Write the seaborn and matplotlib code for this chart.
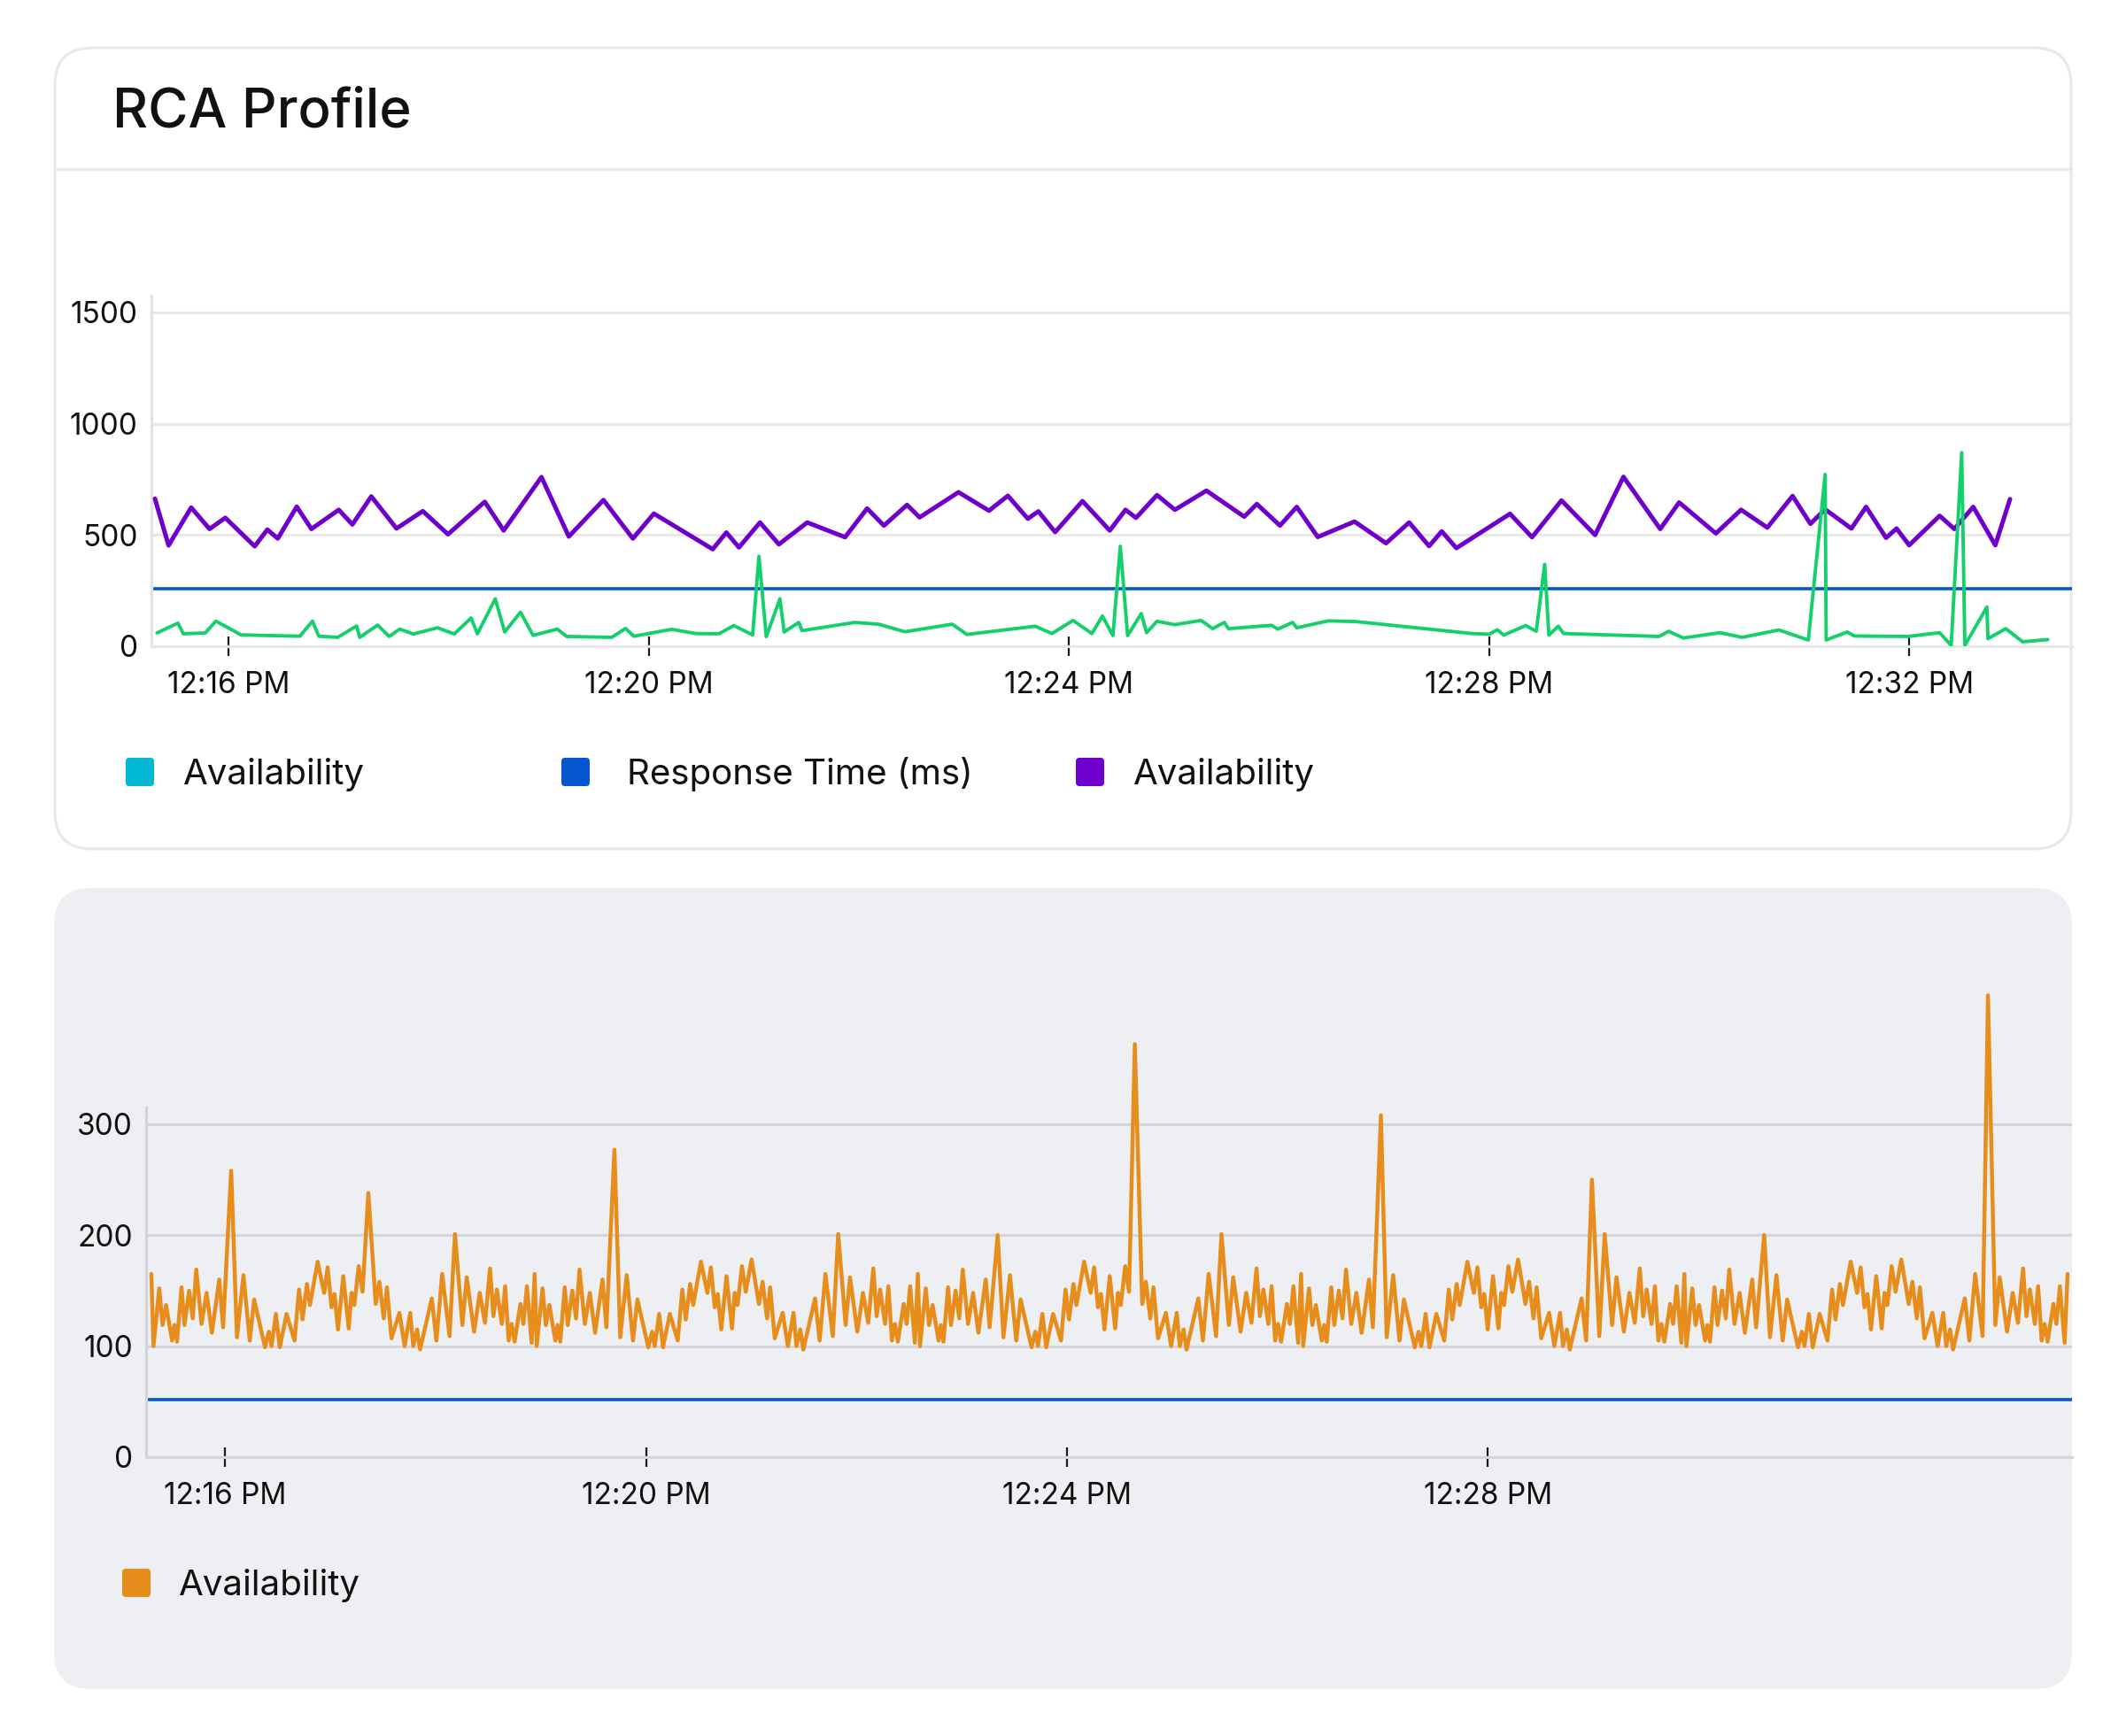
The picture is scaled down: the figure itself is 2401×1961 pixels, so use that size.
import matplotlib.pyplot as plt
import matplotlib.dates as mdates
from matplotlib.patches import FancyBboxPatch
from matplotlib.lines import Line2D
import pandas as pd
import seaborn as sns

W, H = 2401, 1961

# ---- top chart data (minutes after 12:16 PM) ----
purple_min = [-0.70, -0.57, -0.355, -0.18, -0.03, 0.25, 0.37, 0.47, 0.65, 0.79, 1.05, 1.18, 1.36,
              1.60, 1.85, 2.09, 2.44, 2.62, 2.98, 3.24, 3.57, 3.85, 4.05, 4.61, 4.74, 4.86, 5.06,
              5.24, 5.51, 5.87, 6.08, 6.24, 6.46, 6.58, 6.95, 7.24, 7.42, 7.61, 7.71, 7.87, 8.13,
              8.39, 8.54, 8.64, 8.84, 9.01, 9.31, 9.67, 9.79, 10.01, 10.17, 10.37, 10.72, 11.02,
              11.24, 11.43, 11.55, 11.69, 12.20, 12.41, 12.69, 13.01, 13.28, 13.63, 13.81, 14.16,
              14.40, 14.65, 14.89, 15.06, 15.20, 15.45, 15.59, 15.78, 15.88, 16.00, 16.29, 16.43,
              16.61, 16.82, 16.96]
purple_val = [663, 453, 623, 527, 577, 449, 524, 484, 627, 527, 613, 547, 673,
              529, 607, 503, 649, 520, 760, 493, 657, 484, 596, 436, 511, 444, 556,
              458, 556, 490, 619, 542, 635, 579, 692, 609, 676, 573, 606, 513, 652,
              520, 613, 577, 679, 613, 699, 582, 639, 542, 626, 491, 560, 463,
              556, 450, 516, 441, 595, 490, 655, 500, 761, 527, 646, 507,
              613, 533, 675, 550, 615, 529, 626, 487, 529, 454, 586, 527,
              626, 454, 661]

green_min = [-0.68, -0.48, -0.43, -0.22, -0.12, 0.12, 0.68, 0.80, 0.86, 1.04, 1.22, 1.25, 1.42,
             1.53, 1.63, 1.76, 1.99, 2.15, 2.31, 2.37, 2.54, 2.63, 2.78, 2.90, 3.13, 3.22, 3.65,
             3.78, 3.86, 4.22, 4.45, 4.67, 4.81, 4.99, 5.05, 5.12, 5.25, 5.29, 5.43, 5.46, 5.96,
             6.19, 6.44, 6.89, 7.03, 7.68, 7.84, 8.04, 8.22, 8.32, 8.42, 8.49, 8.56, 8.69, 8.74,
             8.84, 9.01, 9.26, 9.37, 9.48, 9.52, 9.93, 9.99, 10.13, 10.17, 10.47, 10.73, 11.84,
             12.00, 12.08, 12.14, 12.35, 12.45, 12.53, 12.57, 12.66, 12.71, 13.62, 13.71, 13.85,
             14.20, 14.41, 14.76, 15.04, 15.20, 15.21, 15.41, 15.48, 15.99, 16.29, 16.40, 16.50,
             16.53, 16.74, 16.75, 16.92, 17.08, 17.32]
green_val = [60, 104, 56, 60, 113, 51, 45, 113, 45, 40, 91, 40, 95,
             44, 77, 55, 83, 55, 127, 56, 213, 64, 153, 49, 77, 44, 40,
             80, 45, 76, 57, 56, 93, 51, 404, 43, 213, 64, 107, 70, 107,
             99, 65, 99, 53, 90, 57, 116, 57, 136, 48, 449, 48, 147, 61,
             112, 97, 116, 79, 107, 79, 94, 77, 107, 83, 114, 111, 57,
             54, 74, 50, 93, 67, 368, 50, 90, 57, 44, 67, 37,
             61, 40, 73, 28, 772, 28, 64, 46, 44, 61, 4, 870,
             4, 176, 34, 79, 20, 30]

response_top = 258
response_bottom = 52

# ---- bottom chart data: the series repeats one 80-point block five times ----
orange_motif = [165, 100, 152, 119, 137, 105, 119, 104, 153, 119, 150, 125, 169, 120, 148, 112,
                160, 117, 200, 108, 164, 105, 142, 99, 113, 100, 129, 99, 129, 105, 151, 124,
                156, 137, 176, 148, 171, 135, 147, 115, 163, 116, 148, 137, 172, 149, 178, 138,
                158, 125, 153, 107, 130, 100, 130, 100, 115, 97, 143, 105, 165, 109, 201, 119,
                162, 113, 148, 121, 170, 127, 151, 120, 154, 105, 120, 104, 138, 120, 154, 103]
orange_motif_sec = [0, 1.2, 4.5, 6.4, 8.4, 11.8, 13.1, 14.6, 17.2, 18.9, 21.5, 23.6, 25.6, 28.6,
                    31.5, 34.5, 38.7, 40.9, 45.5, 48.8, 52.5, 56.1, 58.6, 64.8, 67.0, 68.5, 71.0,
                    73.2, 77.1, 81.6, 84.2, 86.2, 88.7, 90.4, 94.8, 98.5, 100.5, 102.7, 104.4,
                    106.4, 109.4, 112.5, 114.1, 115.7, 118.2, 120.4, 123.7, 127.9, 130.0, 132.5,
                    134.3, 136.9, 141.4, 144.4, 147.6, 149.3, 151.5, 153.2, 159.9, 162.5, 165.8,
                    170.0, 173.1, 177.3, 179.8, 184.0, 187.2, 190.2, 193.1, 195.0, 197.0, 199.8,
                    201.7, 203.7, 205.4, 207.1, 210.4, 212.1, 214.1, 216.8]
orange_period_sec = 218.5
orange_repeats = 5
orange_spikes = {18: 258, 46: 238, 98: 277, 206: 372, 258: 308, 300: 250, 382: 416}

top_ticks = ['12:16', '12:20', '12:24', '12:28', '12:32']
bottom_ticks = ['12:16', '12:20', '12:24', '12:28']
top_legend = [('Availability', '#00b8d4'), ('Response Time (ms)', '#0557d0'),
              ('Availability', '#6f00cc')]
bottom_legend = [('Availability', '#e68d1c')]

day = '2024-01-01 '
t0 = pd.Timestamp(day + '12:16:00')

top_purple = pd.DataFrame({'time': t0 + pd.to_timedelta(purple_min, unit='min'), 'value': purple_val})
top_green = pd.DataFrame({'time': t0 + pd.to_timedelta(green_min, unit='min'), 'value': green_val})

orange_val = []
orange_sec = []
for p in range(orange_repeats):
    orange_val += orange_motif
    orange_sec += [p * orange_period_sec + s for s in orange_motif_sec]
orange_val.append(orange_motif[0])
orange_sec.append(orange_repeats * orange_period_sec)
for i, v in orange_spikes.items():
    orange_val[i] = v
bottom_orange = pd.DataFrame({'time': pd.Timestamp(day + '12:15:18') + pd.to_timedelta(orange_sec, unit='s'),
                              'value': orange_val})

sns.set_theme(style='white')
plt.rcParams['font.family'] = ['Inter', 'DejaVu Sans']

fig = plt.figure(figsize=(W / 100, H / 100), dpi=100)
fig.patch.set_facecolor('white')
px = fig.dpi_scale_trans


def card(x0, y0, x1, y1, **kw):
    fig.patches.append(FancyBboxPatch((x0 / 100, (H - y1) / 100), (x1 - x0) / 100, (y1 - y0) / 100,
                                      boxstyle='round,pad=0,rounding_size=0.42', transform=px,
                                      zorder=-2, **kw))


card(62, 54, 2339, 959, facecolor='white', edgecolor='#e7e8eb', linewidth=2.2)
card(61, 1003, 2340, 1908, facecolor='#eeeff3', edgecolor='none')
fig.lines.append(Line2D([62 / 100, 2339 / 100], [(H - 191) / 100] * 2, transform=px,
                        color='#e8e9ec', linewidth=2.4, zorder=-1))
fig.text(127 / 100, (H - 143) / 100, 'RCA Profile', transform=px, fontsize=44.5,
         fontweight='medium', color='#111111', va='baseline')


def legend(items, xs_sq, xs_txt, baseline):
    for (label, color), xs, xt in zip(items, xs_sq, xs_txt):
        fig.patches.append(FancyBboxPatch((xs / 100, (H - baseline - 2) / 100), 0.32, 0.32,
                                          boxstyle='round,pad=0,rounding_size=0.04',
                                          transform=px, facecolor=color, edgecolor='none'))
        fig.text(xt / 100, (H - baseline) / 100, label, transform=px, fontsize=29,
                 color='#111111', va='baseline')


legend(top_legend, [142, 634, 1215], [207, 708, 1280], 886)
legend(bottom_legend, [138], [202], 1802)


def style_axis(ax, grid_color, spine_color, ticks, ylim, yticks, xlim):
    ax.set_facecolor('none')
    ax.set_ylim(*ylim)
    ax.set_yticks(yticks)
    ax.set_xlim(pd.Timestamp(day + xlim[0]), pd.Timestamp(day + xlim[1]))
    ax.set_xticks([pd.Timestamp(day + t) for t in ticks])
    ax.xaxis.set_major_formatter(mdates.DateFormatter('%-I:%M %p'))
    ax.set_xlabel('')
    ax.set_ylabel('')
    ax.yaxis.grid(True, color=grid_color, linewidth=2.3)
    ax.xaxis.grid(False)
    ax.set_axisbelow(True)
    for s in ['top', 'right']:
        ax.spines[s].set_visible(False)
    ax.spines['left'].set_color(spine_color)
    ax.spines['left'].set_linewidth(2.3)
    ax.spines['bottom'].set_color(grid_color)
    ax.spines['bottom'].set_linewidth(2.3)
    ax.tick_params(axis='x', bottom=True, direction='inout', length=15.8, width=1.6,
                   color='#1a1a1a', pad=12.6, labelsize=24, labelcolor='#111111')
    ax.tick_params(axis='y', left=False, length=0, pad=11, labelsize=24, labelcolor='#111111')


# top chart
ax1 = fig.add_axes([171 / W, 1 - 730 / H, (2340 - 171) / W, (730 - 334) / H])
ax1.axhline(response_top, color='#0557d0', linewidth=2.6, zorder=2)
sns.lineplot(data=top_purple, x='time', y='value', ax=ax1, color='#6f00cc', linewidth=3.6,
             estimator=None, solid_joinstyle='round', solid_capstyle='round', zorder=3)
sns.lineplot(data=top_green, x='time', y='value', ax=ax1, color='#14d06b', linewidth=2.8,
             estimator=None, zorder=4)
style_axis(ax1, '#e8e8e8', '#e3e3e3', top_ticks, (0, 1575), [0, 500, 1000, 1500],
           ('12:15:16', '12:33:33'))

# bottom chart
ax2 = fig.add_axes([165 / W, 1 - 1646 / H, (2340 - 165) / W, (1646 - 1251) / H])
ax2.axhline(response_bottom, color='#0557d0', linewidth=2.6, zorder=2)
sns.lineplot(data=bottom_orange, x='time', y='value', ax=ax2, color='#e68d1c', linewidth=3.2,
             estimator=None, clip_on=False, zorder=3)
style_axis(ax2, '#d5d6da', '#d2d3d7', bottom_ticks, (0, 315), [0, 100, 200, 300],
           ('12:15:15', '12:33:33'))

fig.savefig('out.png', dpi=100, facecolor='white')
